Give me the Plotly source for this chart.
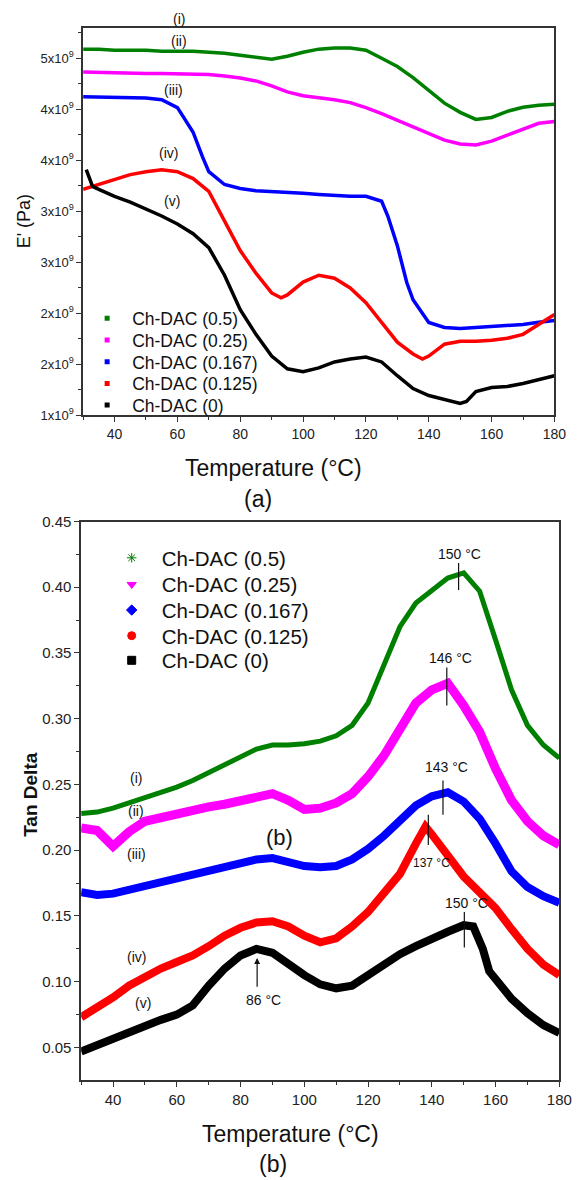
import plotly.graph_objects as go

# ---------------- (a) Storage modulus E' (values in units of 1e9 Pa) ----------------
T_a = [30, 35, 40, 45, 50, 55, 60, 65, 70, 75, 80, 85, 90, 95, 100, 105, 110, 115,
       120, 125, 130, 135, 140, 145, 150, 155, 160, 165, 170, 175, 180]
E_05 = [5.09, 5.09, 5.08, 5.08, 5.08, 5.07, 5.07, 5.07, 5.06, 5.05, 5.03, 5.01, 4.99, 5.02,
        5.06, 5.09, 5.10, 5.10, 5.08, 5.00, 4.92, 4.81, 4.69, 4.56, 4.47, 4.40, 4.42, 4.48,
        4.52, 4.54, 4.55]
E_025 = [4.865, 4.86, 4.855, 4.855, 4.85, 4.85, 4.845, 4.845, 4.84, 4.826, 4.807, 4.778,
         4.729, 4.671, 4.632, 4.613, 4.594, 4.565, 4.516, 4.458, 4.391, 4.323, 4.255, 4.197,
         4.159, 4.149, 4.188, 4.246, 4.313, 4.362, 4.381]
T_a3 = [30, 35, 40, 45, 50, 55, 60, 62, 65, 68, 70, 75, 80, 85, 90, 95, 100, 105, 110, 115,
        120, 125, 127, 130, 133, 135, 140, 145, 150, 155, 160, 165, 170, 175, 180]
E_0167 = [4.623, 4.62, 4.615, 4.613, 4.61, 4.594, 4.516, 4.42, 4.275, 4.033, 3.888, 3.762,
          3.723, 3.70, 3.694, 3.685, 3.675, 3.665, 3.656, 3.646, 3.646, 3.598, 3.45, 3.162,
          2.80, 2.631, 2.408, 2.360, 2.350, 2.360, 2.369, 2.379, 2.389, 2.41, 2.427]
T_a4 = [30, 35, 40, 45, 50, 55, 60, 65, 70, 75, 80, 85, 90, 93, 95, 100, 105, 110, 115, 120,
        125, 130, 135, 138, 140, 145, 150, 155, 160, 165, 170, 175, 180]
E_0125 = [3.714, 3.762, 3.810, 3.859, 3.888, 3.907, 3.888, 3.820, 3.694, 3.404, 3.114, 2.892,
          2.698, 2.650, 2.679, 2.805, 2.872, 2.843, 2.747, 2.602, 2.408, 2.215, 2.099, 2.050,
          2.079, 2.195, 2.224, 2.224, 2.234, 2.253, 2.292, 2.389, 2.486]
T_a5 = [31, 33, 35, 40, 45, 50, 55, 60, 65, 70, 75, 80, 85, 90, 95, 100, 105, 110, 115, 120,
        125, 130, 135, 140, 145, 150, 152, 155, 160, 165, 170, 175, 180]
E_0 = [3.907, 3.743, 3.714, 3.646, 3.588, 3.520, 3.453, 3.375, 3.279, 3.143, 2.872, 2.534,
       2.292, 2.079, 1.954, 1.925, 1.963, 2.021, 2.050, 2.070, 2.021, 1.886, 1.760, 1.692,
       1.654, 1.615, 1.634, 1.731, 1.770, 1.780, 1.809, 1.847, 1.886]

E_ticks = [1.5, 2.0, 2.5, 3.0, 3.5, 4.0, 4.5, 5.0]
E_ticktext = ["1x10<sup>9</sup>", "2x10<sup>9</sup>", "2x10<sup>9</sup>", "3x10<sup>9</sup>",
              "3x10<sup>9</sup>", "4x10<sup>9</sup>", "4x10<sup>9</sup>", "5x10<sup>9</sup>"]

# ---------------- (b) Tan Delta ----------------
T_b = [30, 35, 40, 45, 50, 55, 60, 65, 70, 75, 80, 85, 90, 95, 100, 105, 110, 115,
       120, 125, 130, 135, 140, 145, 150, 155, 160, 165, 170, 175, 180]
TD_05 = [0.228, 0.229, 0.232, 0.236, 0.240, 0.244, 0.248, 0.253, 0.259, 0.266, 0.272, 0.277,
         0.280, 0.280, 0.281, 0.283, 0.287, 0.295, 0.312, 0.340, 0.370, 0.388, 0.397, 0.407,
         0.411, 0.397, 0.360, 0.322, 0.295, 0.280, 0.270]
TD_025 = [0.217, 0.215, 0.203, 0.214, 0.222, 0.225, 0.228, 0.231, 0.233, 0.235, 0.238, 0.241,
          0.243, 0.238, 0.231, 0.232, 0.236, 0.243, 0.256, 0.272, 0.293, 0.312, 0.322, 0.327,
          0.310, 0.290, 0.262, 0.238, 0.222, 0.211, 0.204]
TD_0167 = [0.168, 0.166, 0.167, 0.170, 0.173, 0.176, 0.179, 0.182, 0.185, 0.187, 0.190, 0.193,
           0.194, 0.191, 0.188, 0.187, 0.188, 0.193, 0.201, 0.211, 0.223, 0.234, 0.241, 0.244,
           0.237, 0.224, 0.205, 0.184, 0.172, 0.165, 0.160]
T_b4 = [30, 35, 40, 45, 50, 55, 60, 65, 70, 75, 80, 85, 90, 95, 100, 105, 110, 115, 120, 125,
        130, 135, 138, 140, 145, 150, 155, 160, 165, 170, 175, 180]
TD_0125 = [0.073, 0.080, 0.088, 0.097, 0.104, 0.110, 0.115, 0.120, 0.127, 0.135, 0.141, 0.145,
           0.146, 0.142, 0.135, 0.130, 0.133, 0.142, 0.153, 0.168, 0.182, 0.205, 0.218, 0.212,
           0.195, 0.180, 0.168, 0.156, 0.140, 0.125, 0.113, 0.105]
T_b5 = [30, 35, 40, 45, 50, 55, 60, 65, 70, 75, 80, 85, 90, 95, 100, 105, 110, 115, 120, 125,
        130, 135, 140, 145, 150, 153, 156, 158, 160, 165, 170, 175, 180]
TD_0 = [0.047, 0.052, 0.057, 0.062, 0.067, 0.071, 0.075, 0.082, 0.097, 0.110, 0.120, 0.125,
        0.122, 0.113, 0.105, 0.098, 0.095, 0.097, 0.105, 0.113, 0.121, 0.127, 0.133, 0.138,
        0.143, 0.142, 0.125, 0.108, 0.102, 0.087, 0.076, 0.067, 0.061]

names = ["Ch-DAC (0.5)", "Ch-DAC (0.25)", "Ch-DAC (0.167)", "Ch-DAC (0.125)", "Ch-DAC (0)"]
colors = ["#008000", "#ff00ff", "#0000ff", "#ff0000", "#000000"]
roman = ["(i)", "(ii)", "(iii)", "(iv)", "(v)"]
symbols_b = ["asterisk-open", "triangle-down", "diamond", "circle", "square"]

FONT = "Liberation Sans, Arial, sans-serif"
AX = "#333333"

fig = go.Figure()

series_a = [(T_a, E_05), (T_a, E_025), (T_a3, E_0167), (T_a4, E_0125), (T_a5, E_0)]
for (tx, vy), c in zip(series_a, colors):
    fig.add_trace(go.Scatter(x=tx, y=vy, mode="lines", line=dict(color=c, width=3.5),
                             xaxis="x", yaxis="y", showlegend=False, hoverinfo="skip"))

series_b = [(T_b, TD_05, 5), (T_b, TD_025, 9), (T_b, TD_0167, 8), (T_b4, TD_0125, 8), (T_b5, TD_0, 8)]
for (tx, vy, w), c in zip(series_b, colors):
    fig.add_trace(go.Scatter(x=tx, y=vy, mode="lines", line=dict(color=c, width=w),
                             xaxis="x2", yaxis="y2", showlegend=False, hoverinfo="skip"))

# legends: one legend box per entry so the row spacing matches the original
legend_layout = {}
rows_a = [314, 336, 358, 380, 402]
rows_b = [557, 584, 610, 636, 661]
for i, (n, c) in enumerate(zip(names, colors)):
    key = "legend" if i == 0 else f"legend{i + 1}"
    fig.add_trace(go.Scatter(x=[None], y=[None], mode="markers", name=n,
                             marker=dict(color=c, size=5, symbol="square"),
                             xaxis="x", yaxis="y", legend=key))
    legend_layout[key] = dict(x=84/587, y=1-rows_a[i]/1180, xanchor="left", yanchor="middle",
                              bgcolor="rgba(0,0,0,0)", itemwidth=40,
                              font=dict(family=FONT, size=17.5, color="#111111"))
for i, (n, c, s) in enumerate(zip(names, colors, symbols_b)):
    key = f"legend{i + 6}"
    fig.add_trace(go.Scatter(x=[None], y=[None], mode="markers", name=n,
                             marker=dict(color=c, size=8, symbol=s, line=dict(color=c, width=1)),
                             xaxis="x2", yaxis="y2", legend=key))
    legend_layout[key] = dict(x=104/587, y=1-rows_b[i]/1180, xanchor="left", yanchor="middle",
                              bgcolor="rgba(0,0,0,0)", itemwidth=50,
                              font=dict(family=FONT, size=20.5, color="#111111"))

axis_common = dict(showline=True, linecolor=AX, linewidth=1.5, mirror=True, ticks="outside",
                   ticklen=5, tickcolor=AX, tickwidth=1.2, showgrid=False, zeroline=False,
                   tickfont=dict(family=FONT, size=13, color="#222222"))
tf15 = dict(family=FONT, size=15, color="#222222")

fig.update_layout(
    width=587, height=1180, margin=dict(l=0, r=0, t=0, b=0),
    paper_bgcolor="white", plot_bgcolor="white",
    font=dict(family=FONT, color="#111111"),
    xaxis=dict(domain=[85/587, 567/587], range=[30, 180], tickvals=list(range(40, 181, 20)),
               minor=dict(tickvals=list(range(30, 181, 20)), ticks="outside", ticklen=3, tickcolor=AX),
               anchor="y", **{**axis_common, "tickfont": dict(family=FONT, size=14, color="#222222")}),
    yaxis=dict(domain=[1-412/1180, 1-19/1180], range=[1.5, 5.3], tickvals=E_ticks,
               ticktext=E_ticktext,
               minor=dict(tickvals=[1.75, 2.25, 2.75, 3.25, 3.75, 4.25, 4.75, 5.25], ticks="outside",
                          ticklen=3, tickcolor=AX),
               anchor="x", **axis_common),
    xaxis2=dict(domain=[83/587, 572/587], range=[30, 180], tickvals=list(range(40, 181, 20)),
                minor=dict(tickvals=list(range(30, 181, 20)), ticks="outside", ticklen=3, tickcolor=AX),
                anchor="y2", **{**axis_common, "tickfont": tf15}),
    yaxis2=dict(domain=[1-1087/1180, 1-520/1180], range=[0.025, 0.45],
                tickvals=[0.05, 0.10, 0.15, 0.20, 0.25, 0.30, 0.35, 0.40, 0.45], tickformat=".2f",
                minor=dict(tickvals=[0.075, 0.125, 0.175, 0.225, 0.275, 0.325, 0.375, 0.425],
                           ticks="outside", ticklen=3, tickcolor=AX),
                anchor="x2", **{**axis_common, "tickfont": tf15}),
    **legend_layout,
)

def A(text, x, y, size, xref="paper", yref="paper", angle=0):
    if xref == "paper":
        x = x / 587
        y = 1 - y / 1180
    return dict(text=text, x=x, y=y, xref=xref, yref=yref, textangle=angle, showarrow=False,
                xanchor="center", yanchor="middle", font=dict(size=size, family=FONT, color="#111111"))

ann = []
ann.append(A("E' (Pa)", 24, 215, 18, angle=-90))
ann.append(A("Temperature (°C)", 280, 466, 23))
ann.append(A("(a)", 264, 497, 23))
ann.append(A("<b>Tan Delta</b>", 31, 797, 19, angle=-90))
ann.append(A("Temperature (°C)", 297, 1141, 23))
ann.append(A("(b)", 279, 1172, 23))

# curve labels (a) (page pixels)
lab_a = [(183, 10), (183, 32), (177, 82), (172, 146), (176, 195)]
for (lx, ly), r in zip(lab_a, roman):
    ann.append(A(r, lx, ly, 14))
# curve labels (b) (data coordinates)
lab_b = [(47.3, 0.255), (47.3, 0.2295), (47.3, 0.197), (47.3, 0.119), (49.5, 0.084)]
for (lx, ly), r in zip(lab_b, roman):
    ann.append(A(r, lx, ly, 14, "x2", "y2"))

# peak annotations in (b)
peak_txt = [("150 °C", 148.7, 0.425, 14), ("146 °C", 146.0, 0.346, 14), ("143 °C", 144.7, 0.263, 14),
            ("137 °C", 139.8, 0.190, 12), ("150 °C", 150.9, 0.160, 14), ("86 °C", 87.1, 0.086, 14),
            ("(b)", 92.3, 0.210, 22)]
for t, px, py, fs in peak_txt:
    ann.append(A(t, px, py, fs, "x2", "y2"))
ann.append(dict(x=85.2, y=0.118, ax=85.2, ay=0.095, xref="x2", yref="y2", axref="x2", ayref="y2",
                text="", showarrow=True, arrowhead=2, arrowsize=1, arrowwidth=1.2, arrowcolor="#111"))
fig.update_layout(annotations=ann)

peak_lines = [(148.4, 0.398, 0.4185), (144.7, 0.310, 0.339), (143.5, 0.227, 0.253),
              (138.9, 0.204, 0.227), (150.2, 0.126, 0.153)]
for lx, y0, y1 in peak_lines:
    fig.add_shape(type="line", x0=lx, x1=lx, y0=y0, y1=y1, xref="x2", yref="y2",
                  line=dict(color="#111111", width=1.2))

fig.write_html("out.html")
